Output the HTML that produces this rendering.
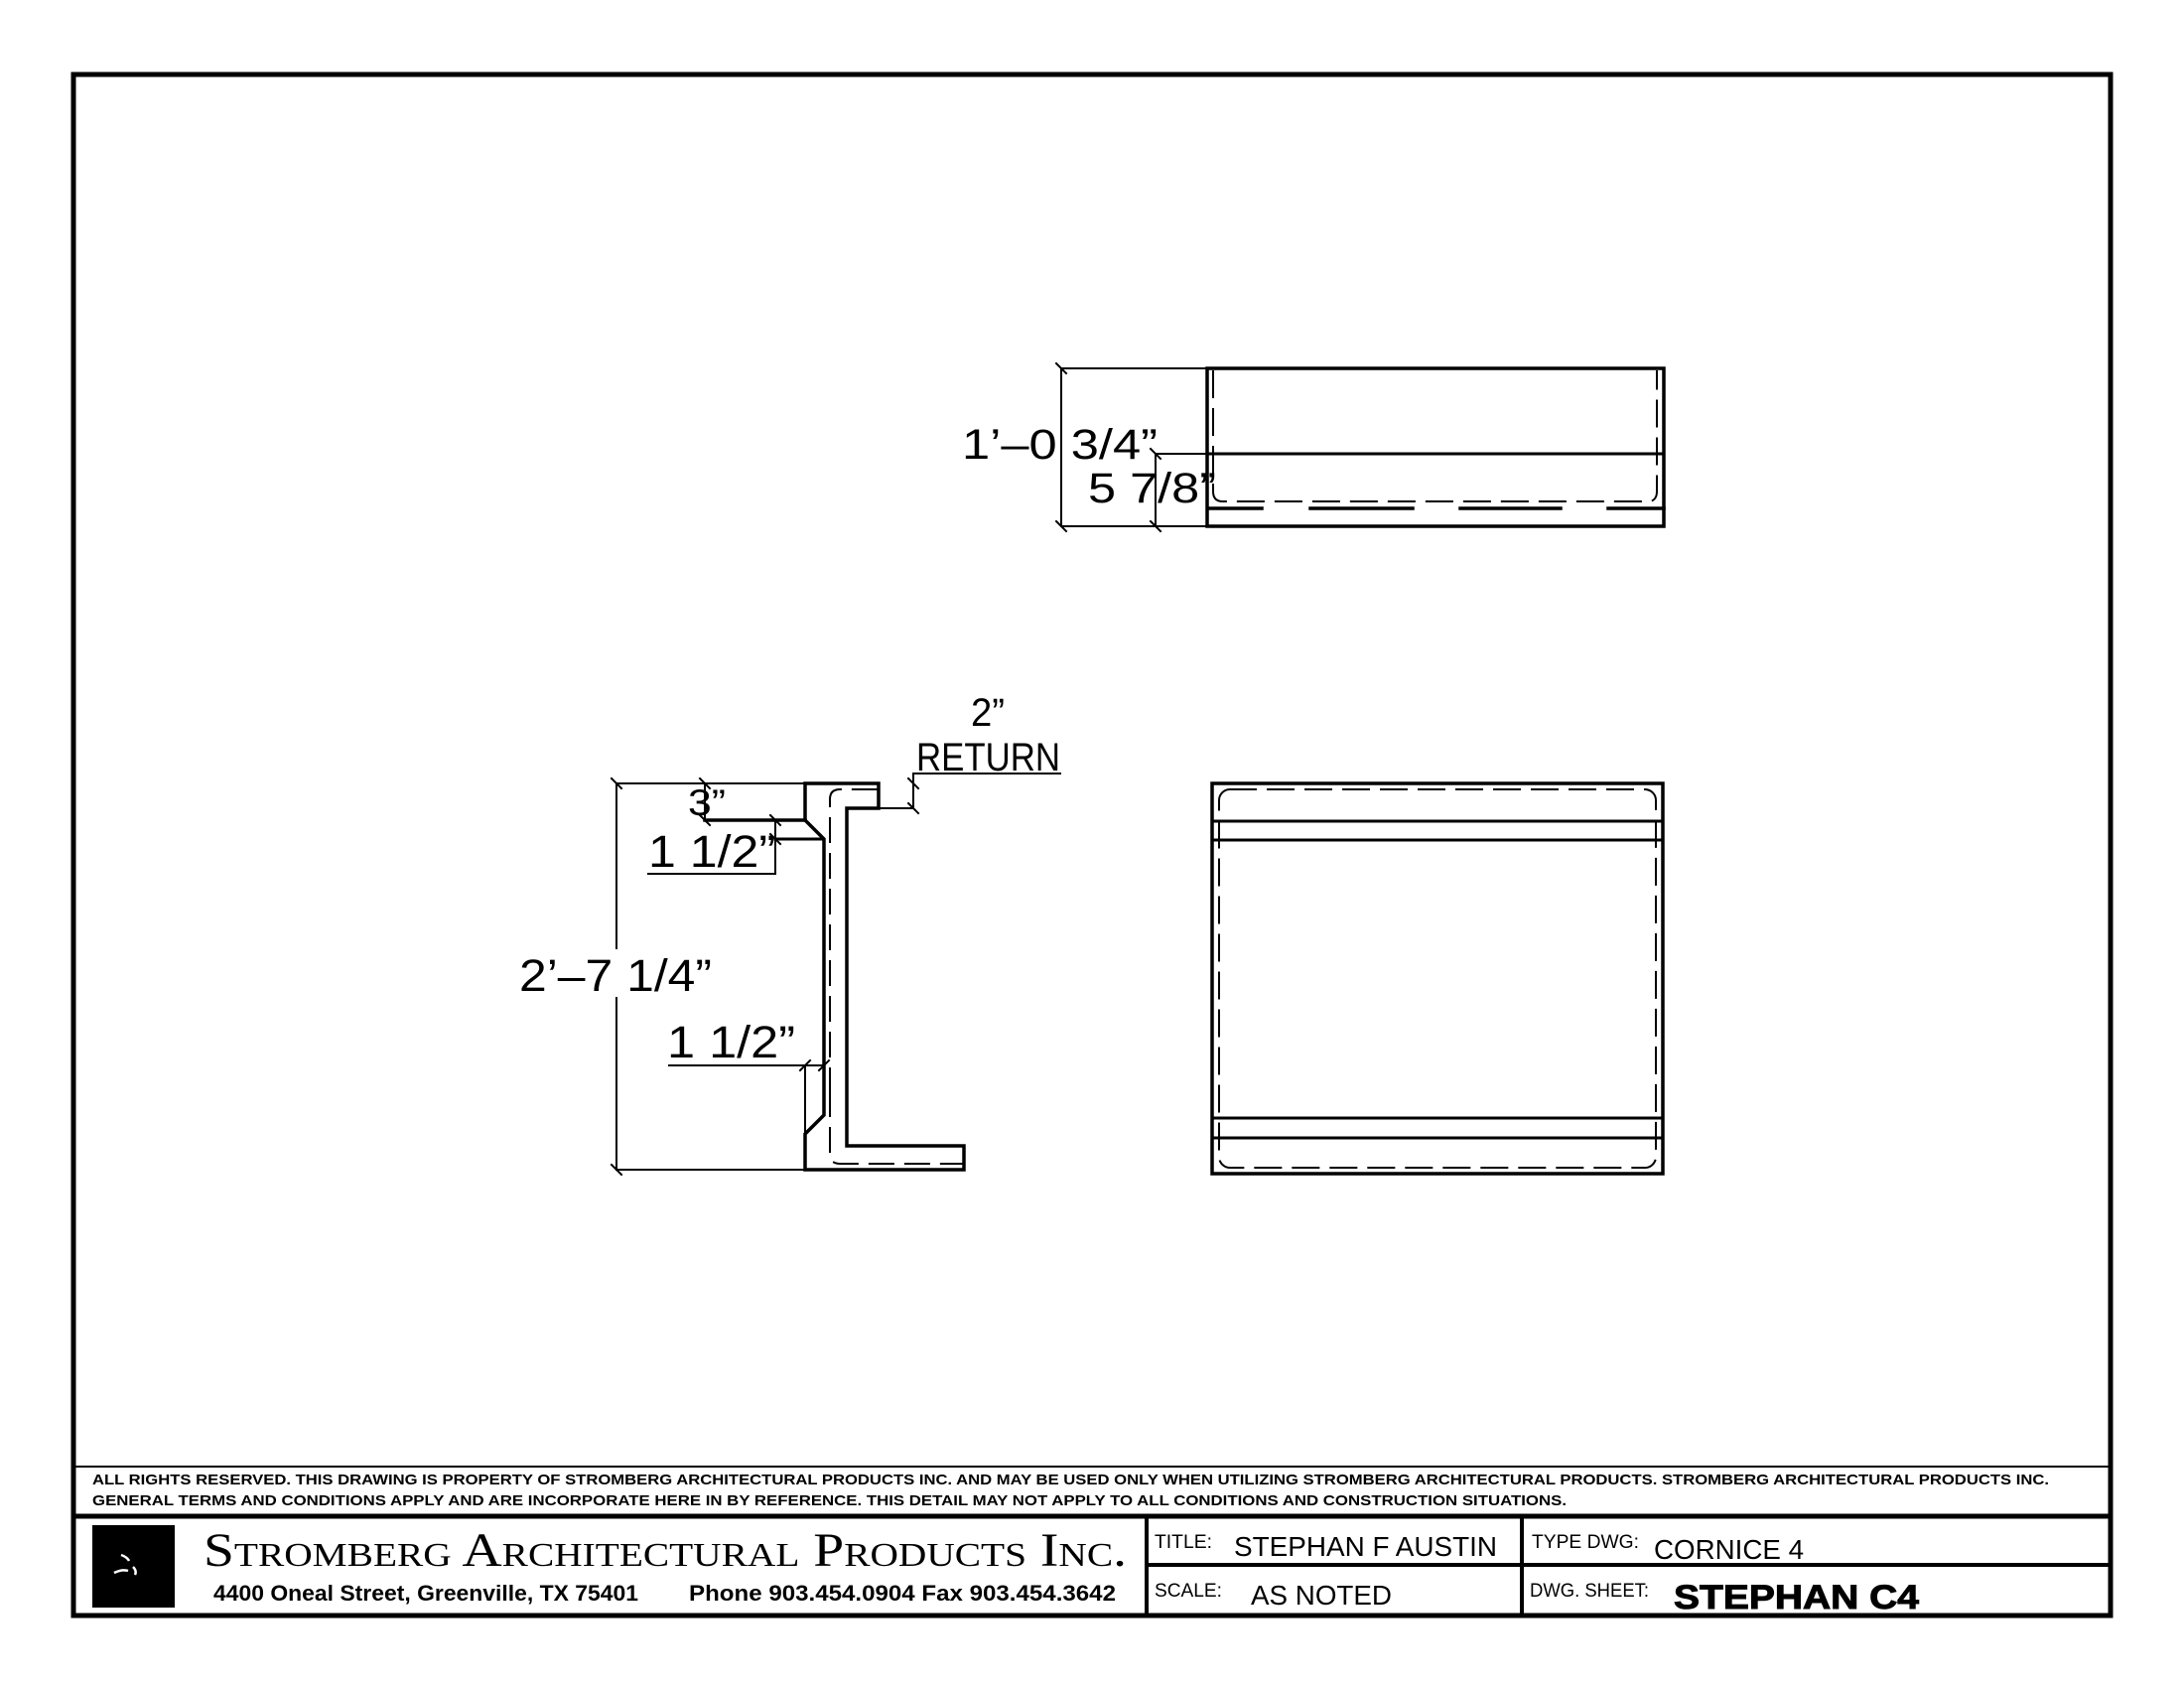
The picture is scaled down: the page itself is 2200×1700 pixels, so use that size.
<!DOCTYPE html>
<html><head><meta charset="utf-8"><style>
html,body{margin:0;padding:0;background:#fff}
svg{display:block}
.cad{font-family:"Liberation Sans",sans-serif;font-weight:normal;fill:#000}
</style></head><body>
<svg width="2200" height="1700" viewBox="0 0 2200 1700" xmlns="http://www.w3.org/2000/svg">
<rect width="2200" height="1700" fill="#fff"/>
<rect x="74" y="75" width="2052" height="1552" fill="none" stroke="#000" stroke-width="5"/>

<g stroke="#000" fill="none" stroke-linecap="square">
<rect x="1216" y="371" width="460" height="159" stroke-width="3.5"/>
<line x1="1216" y1="457" x2="1676" y2="457" stroke-width="3"/>
<path d="M1222 374 V495 Q1222 505 1232 505 H1660 Q1669 505 1669 495 V374" stroke-width="2" stroke-dasharray="26 12"/>
<g stroke-width="3.5">
<line x1="1217" y1="512" x2="1271" y2="512"/><line x1="1320" y1="512" x2="1423" y2="512"/>
<line x1="1471" y1="512" x2="1572" y2="512"/><line x1="1620" y1="512" x2="1676" y2="512"/>
</g>
<g stroke-width="2">
<line x1="1069" y1="371" x2="1216" y2="371"/>
<line x1="1069" y1="530" x2="1216" y2="530"/>
<line x1="1069" y1="371" x2="1069" y2="530"/>
<line x1="1164" y1="457" x2="1216" y2="457"/>
<line x1="1164" y1="457" x2="1164" y2="530"/>
<line x1="1064" y1="366" x2="1074" y2="376"/><line x1="1064" y1="525" x2="1074" y2="535"/>
<line x1="1159" y1="452" x2="1169" y2="462"/><line x1="1159" y1="525" x2="1169" y2="535"/>
</g>

<rect x="1221" y="789" width="454" height="393" stroke-width="3.5"/>
<g stroke-width="3">
<line x1="1221" y1="827" x2="1675" y2="827"/><line x1="1221" y1="846" x2="1675" y2="846"/>
<line x1="1221" y1="1126" x2="1675" y2="1126"/><line x1="1221" y1="1146" x2="1675" y2="1146"/>
</g>
<rect x="1228" y="795" width="440" height="381" rx="11" stroke-width="2" stroke-dasharray="26 12"/>

<path d="M811 789 H885 V814 H853 V1154 H971 V1178 H811 V1142 L830 1123 V845 L811 826 Z" stroke-width="3.5" stroke-linejoin="miter"/>
<line x1="710" y1="826" x2="811" y2="826" stroke-width="3.5"/>
<line x1="781" y1="845" x2="829" y2="845" stroke-width="3"/>
<path d="M836 1100 V1162 Q836 1172 846 1172 H971" stroke-width="2" stroke-dasharray="24 12"/>
<path d="M836 1100 V805 Q836 795 846 795 H885" stroke-width="2" stroke-dasharray="24 12"/>
<g stroke-width="2">
<line x1="621" y1="789" x2="811" y2="789"/>
<line x1="621" y1="1178" x2="811" y2="1178"/>
<line x1="621" y1="789" x2="621" y2="955"/>
<line x1="621" y1="1005" x2="621" y2="1178"/>
<line x1="616" y1="784" x2="626" y2="794"/><line x1="616" y1="1173" x2="626" y2="1183"/>
<line x1="710" y1="789" x2="710" y2="826"/>
<line x1="705" y1="784" x2="715" y2="794"/><line x1="705" y1="821" x2="715" y2="831"/>
<line x1="781" y1="826" x2="781" y2="880"/>
<line x1="653" y1="880" x2="781" y2="880"/>
<line x1="776" y1="821" x2="786" y2="831"/><line x1="776" y1="840" x2="786" y2="850"/>
<line x1="674" y1="1073" x2="830" y2="1073"/>
<line x1="811" y1="1073" x2="811" y2="1142"/>
<line x1="806" y1="1078" x2="816" y2="1068"/><line x1="825" y1="1078" x2="835" y2="1068"/>
<line x1="885" y1="814" x2="920" y2="814"/>
<line x1="920" y1="779" x2="920" y2="814"/>
<line x1="920" y1="779" x2="1068" y2="779"/>
<line x1="915" y1="784" x2="925" y2="794"/><line x1="915" y1="809" x2="925" y2="819"/>
</g>
</g>

<g class="cad">
<text x="969" y="462" font-size="43" textLength="197" lengthAdjust="spacingAndGlyphs">1’–0  3/4”</text>
<text x="1096" y="506" font-size="43" textLength="129" lengthAdjust="spacingAndGlyphs">5  7/8”</text>
<text x="978" y="731" font-size="40" textLength="34" lengthAdjust="spacingAndGlyphs">2”</text>
<text x="923" y="776" font-size="40" textLength="145" lengthAdjust="spacingAndGlyphs">RETURN</text>
<text x="693" y="821" font-size="37" textLength="38" lengthAdjust="spacingAndGlyphs">3”</text>
<text x="653" y="873" font-size="45" textLength="128" lengthAdjust="spacingAndGlyphs">1  1/2”</text>
<text x="523" y="998" font-size="45" textLength="194" lengthAdjust="spacingAndGlyphs">2’–7  1/4”</text>
<text x="672" y="1065" font-size="45" textLength="129" lengthAdjust="spacingAndGlyphs">1  1/2”</text>
</g>

<g stroke="#000" fill="none">
<line x1="74" y1="1477" x2="2126" y2="1477" stroke-width="2"/>
<line x1="74" y1="1527" x2="2126" y2="1527" stroke-width="5"/>
<line x1="1155" y1="1527" x2="1155" y2="1627" stroke-width="4"/>
<line x1="1533" y1="1527" x2="1533" y2="1627" stroke-width="4"/>
<line x1="1155" y1="1576" x2="2126" y2="1576" stroke-width="4"/>
</g>
<rect x="93" y="1536" width="83" height="83" fill="#000"/>
<path d="M122 1566 q6 2 8 6 M115 1584 q8 -4 14 -2 M134 1578 q4 4 2 8" stroke="#fff" stroke-width="2.5" fill="none"/>
<g font-family="Liberation Sans, sans-serif" font-weight="bold" fill="#000">
<text x="93" y="1495" font-size="15" textLength="1971" lengthAdjust="spacingAndGlyphs">ALL RIGHTS RESERVED. THIS DRAWING IS PROPERTY OF STROMBERG ARCHITECTURAL PRODUCTS INC. AND MAY BE USED ONLY WHEN UTILIZING STROMBERG ARCHITECTURAL PRODUCTS.  STROMBERG ARCHITECTURAL PRODUCTS INC.</text>
<text x="93" y="1516" font-size="15" textLength="1485" lengthAdjust="spacingAndGlyphs">GENERAL TERMS AND CONDITIONS APPLY AND ARE INCORPORATE HERE IN BY REFERENCE.  THIS DETAIL MAY NOT APPLY TO ALL CONDITIONS AND CONSTRUCTION SITUATIONS.</text>
</g>
<text x="205" y="1577" font-family="Liberation Serif, serif" font-size="48" fill="#000" textLength="930" lengthAdjust="spacingAndGlyphs" style="font-variant:small-caps">Stromberg Architectural Products Inc.</text>
<g font-family="Liberation Sans, sans-serif" font-weight="bold" fill="#000">
<text x="215" y="1612" font-size="22" textLength="428" lengthAdjust="spacingAndGlyphs">4400 Oneal Street, Greenville, TX  75401</text>
<text x="694" y="1612" font-size="22" textLength="430" lengthAdjust="spacingAndGlyphs">Phone 903.454.0904   Fax 903.454.3642</text>
</g>
<g font-family="Liberation Sans, sans-serif" fill="#000">
<text x="1163" y="1559" font-size="19" textLength="58" lengthAdjust="spacingAndGlyphs">TITLE:</text>
<text x="1243" y="1567" font-size="28" textLength="265" lengthAdjust="spacingAndGlyphs">STEPHAN F AUSTIN</text>
<text x="1543" y="1559" font-size="19" textLength="108" lengthAdjust="spacingAndGlyphs">TYPE DWG:</text>
<text x="1666" y="1570" font-size="28" textLength="151" lengthAdjust="spacingAndGlyphs">CORNICE 4</text>
<text x="1163" y="1608" font-size="19" textLength="68" lengthAdjust="spacingAndGlyphs">SCALE:</text>
<text x="1260" y="1616" font-size="28" textLength="142" lengthAdjust="spacingAndGlyphs">AS NOTED</text>
<text x="1541" y="1608" font-size="19" textLength="120" lengthAdjust="spacingAndGlyphs">DWG. SHEET:</text>
<text x="1686" y="1620" font-size="34" font-weight="bold" textLength="247" lengthAdjust="spacingAndGlyphs" stroke="#000" stroke-width="1">STEPHAN C4</text>
</g>
</svg>
</body></html>
